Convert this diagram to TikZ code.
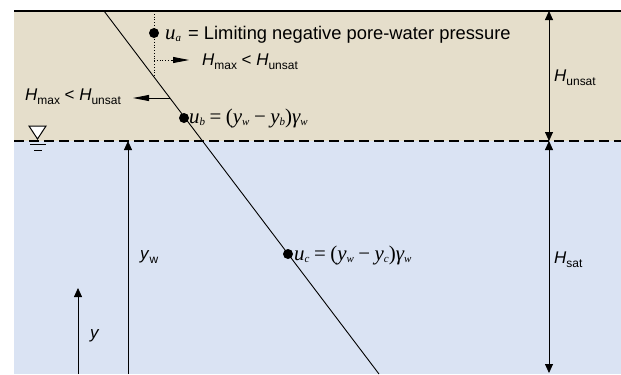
\documentclass[tikz,border=0pt]{standalone}
\usepackage{fontspec}
\setmainfont{Liberation Sans}
\newfontfamily\tms{Liberation Serif}
\usetikzlibrary{arrows.meta}
\definecolor{soil}{RGB}{229,222,203}
\definecolor{water}{RGB}{218,227,243}
\newcommand\Hsub[1]{\textit{H}\raisebox{-0.45ex}{\fontsize{12}{12}\selectfont #1}}
\newcommand\tsub[1]{\raisebox{-0.3ex}{\fontsize{11}{11}\selectfont\itshape #1}}
\newcommand\opsp[1]{\hspace{4.5bp}\upshape#1\hspace{4.5bp}\itshape}
\tikzset{
  lbl/.style={font=\fontsize{17}{18}\selectfont, inner sep=0pt, anchor=base west},
  big/.style={font=\fontsize{18.4}{20}\selectfont, inner sep=0pt, anchor=base west},
  eq/.style={font=\tms\fontsize{21}{22}\selectfont, inner sep=0pt, anchor=base west},
  dot/.style={circle, fill=black, inner sep=0pt, minimum size=10bp},
  arr/.style={-{Triangle[length=9bp,width=8bp]}, line width=0.8bp},
  dim/.style={{Triangle[length=9bp,width=8bp]}-{Triangle[length=9bp,width=8bp]}, line width=0.8bp},
  longarr/.style={-{Triangle[length=16bp,width=6bp]}, line width=0.8bp}
}
\begin{document}
\begin{tikzpicture}[x=1bp,y=-1bp]
\useasboundingbox (0,0) rectangle (621,374);
\fill[soil] (14,11) rectangle (621,141);
\fill[water] (14,141) rectangle (621,374);
\draw[line width=1.6bp] (14,11) -- (621,11);
\draw[line width=2bp, dash pattern=on 10bp off 5bp] (14,141) -- (621,141);
% slip line
\coordinate (top) at (104,11);
\coordinate (bot) at (379,374);
\draw[line width=0.9bp] (top) -- (bot);
% points
\node[dot] (ua) at (154,33) {};
\node[dot] (ub) at (184,118) {};
\node[dot] (uc) at (288,254) {};
% dotted
\coordinate (dtop) at (154,11);
\coordinate (dbot) at (154,78);
\coordinate (dmid) at (154,60);
\coordinate (dend) at (172,60);
\coordinate (aend) at (189,60);
\draw[dotted, line width=0.8bp] (dtop) -- (dbot);
\draw[dotted, line width=0.8bp] (dmid) -- (dend);
\draw[longarr] (dend) -- (aend);
% left arrow
\coordinate (ls) at (170,98);
\coordinate (le) at (133,98);
\draw[longarr] (ls) -- (le);
% labels
\node[eq] (ual) at (165,39) {\itshape u\tsub{a}};
\node[big] (ualt) at (188,39) {= Limiting negative pore-water pressure};
\node[lbl] (h1) at (202,65) {\Hsub{max} < \Hsub{unsat}};
\node[lbl] (h2) at (25,100) {\Hsub{max} < \Hsub{unsat}};
\node[eq] (ubl) at (189,123) {\itshape u\tsub{b}\opsp{=}\upshape(\itshape y\tsub{w}\opsp{−}y\tsub{b}\upshape)\itshape γ\tsub{w}};
\node[eq] (ucl) at (294,260) {\itshape u\tsub{c}\opsp{=}\upshape(\itshape y\tsub{w}\opsp{−}y\tsub{c}\upshape)\itshape γ\tsub{w}};
% water table symbol
\coordinate (t1) at (29,126);
\coordinate (t2) at (46,126);
\coordinate (t3) at (37.5,139);
\draw[line width=1bp, fill=white] (t1) -- (t2) -- (t3) -- cycle;
\coordinate (w1) at (30,144);
\coordinate (w2) at (46,144);
\coordinate (w3) at (34,150);
\coordinate (w4) at (42,150);
\draw[line width=1bp] (w1) -- (w2);
\draw[line width=1bp] (w3) -- (w4);
% y arrows
\coordinate (yw0) at (128,374);
\coordinate (yw1) at (128,141);
\draw[arr] (yw0) -- (yw1);
\node[lbl] (ywl) at (140,259) {\textit{y}\raisebox{-0.45ex}{\fontsize{12}{12}\selectfont w}};
\coordinate (y0) at (78,374);
\coordinate (y1) at (78,288);
\draw[arr] (y0) -- (y1);
\node[lbl] (yl) at (90,338) {\textit{y}};
% H dims
\coordinate (hu0) at (549,11);
\coordinate (hu1) at (549,141);
\coordinate (hs1) at (549,373);
\draw[dim] (hu0) -- (hu1);
\draw[dim] (hu1) -- (hs1);
\node[lbl] (hul) at (554,81) {\Hsub{unsat}};
\node[lbl] (hsl) at (554,263) {\Hsub{sat}};
\end{tikzpicture}
\end{document}
